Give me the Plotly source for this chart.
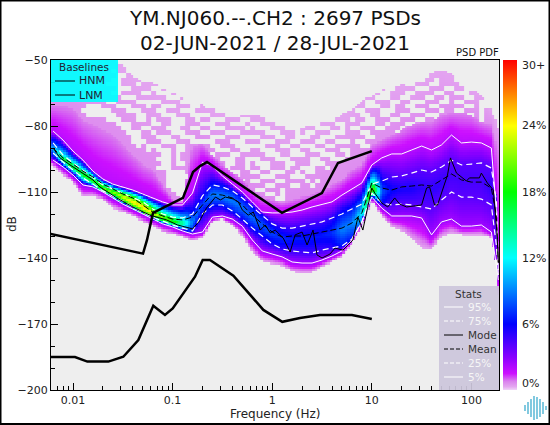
import numpy as np
import plotly.graph_objects as go

TITLE_1 = "YM.NJ060.--.CH2 : 2697 PSDs"
TITLE_2 = "02-JUN-2021 / 28-JUL-2021"

# Frequency grid for the statistics, log10(Hz)
GRID_LOGF = [-2.2, -2.1, -2.0, -1.9, -1.8, -1.7, -1.6, -1.5, -1.4, -1.3, -1.2, -1.1, -1.0, -0.9, -0.8, -0.7,
             -0.6, -0.5, -0.4, -0.3, -0.2, -0.1, 0.0, 0.1, 0.2, 0.3, 0.4, 0.5, 0.6, 0.7, 0.8, 0.9, 1.0, 1.1,
             1.2, 1.3, 1.4, 1.5, 1.6, 1.7, 1.8, 1.9, 2.0, 2.1, 2.2, 2.25, 2.27]

P95 = [-82.3, -86.4, -91.4, -95.5, -100.5, -104.1, -106.4, -107.7, -109.1, -110.9, -112.7, -114.5, -115.9, -115.9,
       -110.5, -96.4, -98.2, -102.7, -106.4, -110, -114.5, -119.1, -119.5, -119.5, -119.1, -118.2, -116.8, -115.5,
       -114.5, -111.4, -108.6, -105.9, -97.7, -94.5, -92.7, -92.7, -90.9, -89.1, -90.9, -88.6, -84.1, -87.7, -87.3,
       -87.7, -90, -118.2, -145.5]
P75 = [-87.7, -93.2, -96.8, -100, -103.2, -106.8, -108.6, -110.5, -112.3, -114.5, -117.7, -120, -121.4, -121.8,
       -120, -111.8, -106.8, -107.7, -109.5, -112.7, -116.8, -120.5, -124.5, -126.4, -126.4, -125.5, -124.5, -123.6,
       -121.8, -120, -117.7, -115.5, -106.4, -105, -103.2, -102.7, -101.4, -100, -100.9, -98.6, -95.5, -97.7, -97.3,
       -96.8, -99.1, -113.6, -140.9]
MEAN = [-90, -94.5, -97.3, -100.5, -103.2, -106.4, -108.6, -110.9, -112.7, -115.9, -119.1, -120.9, -122.3, -122.7,
        -121.4, -115.9, -110.9, -111.4, -112.7, -115.9, -120.5, -124.5, -128.2, -130.5, -130, -130, -129.1, -128.2,
        -127.3, -126.4, -124.1, -119.5, -105.9, -108.2, -109.1, -107.7, -107.3, -106.8, -107.3, -104.5, -101.8,
        -104.5, -105.5, -105.5, -108.2, -120.5, -141.8]
P25 = [-92.3, -96.4, -100, -103.6, -106.4, -109.5, -111.8, -114.1, -116.8, -119.1, -121.4, -123.2, -125, -126.4,
       -127.7, -120, -115.9, -115.9, -118.6, -122.3, -126.4, -130, -133.6, -135.9, -136.8, -137.3, -137.7, -136.4,
       -135.5, -134.5, -131.4, -123.6, -110.5, -115, -115.9, -115.5, -115.9, -116.8, -117.7, -113.6, -110, -112.3,
       -112.3, -113.2, -115.9, -134.1, -147.7]
P5 = [-95.5, -98.6, -102.3, -106.8, -107.7, -110, -112.7, -115.5, -117.7, -120, -122.3, -124.5, -125.9, -127.7,
      -129.1, -128.2, -121.4, -120.9, -122.3, -125.5, -131.8, -136.8, -138.2, -139.5, -141.8, -142.3, -142.3, -140.9,
      -139.1, -136.8, -131.8, -123.6, -112.3, -117.3, -120.9, -120.9, -120.9, -121.8, -129.5, -123.6, -122.3, -125.5,
      -125.5, -125, -128.2, -143.2, -150]

# Where the PDF cloud ends, and how high it peaks (percent)
CLOUD_TOP = [-50, -50, -50, -50, -50, -50, -50, -52.3, -57.3, -59.1, -60.5, -62.7, -65, -67.3, -69.5, -70.5, -71.4,
             -72.7, -74.1, -75, -75, -75, -77.3, -80, -81.8, -80.9, -79.1, -77.3, -75.5, -74.5, -72.7, -68.2, -66.4,
             -63.6, -61.4, -60.9, -60.5, -58.2, -55.9, -54.5, -56.4, -60, -62.3, -65.9, -72.7, -78.2, -81.8]
SOLID_TOP = [-70.5, -70.9, -71.8, -77.3, -79.5, -81.8, -84.1, -88.6, -93.2, -97.7, -100, -106.8, -113.6, -115, -89,
             -88, -93.2, -97.7, -100.9, -104.5, -109.1, -112.3, -113.6, -115, -113.6, -112.3, -111.4, -109.1, -106.8,
             -104.5, -100, -97.7, -88.6, -86.4, -84.1, -81.8, -79.5, -78.2, -78.2, -75, -74.1, -74.1, -75, -78.2,
             -79.5, -88.6, -90.9]
CLOUD_BOTTOM = [-97.7, -102.3, -105.5, -112.3, -111.8, -113.6, -117.3, -119.1, -120.9, -123.6, -125.5, -128.2, -129.1,
                -130.5, -132.3, -130.9, -123.6, -122.3, -125.5, -130, -137.3, -141.8, -142.7, -143.6, -146.4, -146.8,
                -146.8, -144.1, -141.8, -139.5, -133.6, -125.5, -114.1, -120.9, -125.9, -127.7, -131.8, -135.5, -136.4,
                -130.5, -128.6, -129.5, -129.5, -129.5, -130.9, -143.2, -159.1]
PEAK_PCT = [10, 17, 18, 18, 19, 20, 21, 23, 25, 25, 24, 21, 19, 15, 9, 7.5, 9, 9, 9, 8.5, 8.5, 8, 7.5, 7, 6.5, 6.5, 6.5,
            6.5, 7, 9, 9, 12, 22, 8, 6, 5.5, 5.5, 5, 5, 5, 4.5, 4.5, 4.5, 4.5, 5, 4, 3]

MODE_LOGF = [-2.2, -2.13, -2.03, -1.9, -1.8, -1.73, -1.56, -1.4, -1.23, -1.06, -0.95, -0.83, -0.8, -0.73, -0.66, -0.57,
             -0.52, -0.47, -0.39, -0.34, -0.3, -0.24, -0.19, -0.12, -0.07, -0.02, 0.03, 0.11, 0.18, 0.23, 0.3, 0.35,
             0.41, 0.45, 0.5, 0.58, 0.63, 0.71, 0.81, 0.86, 0.91, 1.0, 1.03, 1.1, 1.16, 1.23, 1.28, 1.35, 1.5, 1.55,
             1.58, 1.63, 1.66, 1.76, 1.79, 1.85, 1.95, 1.98, 2.08, 2.1, 2.16, 2.22, 2.26, 2.27]
MODE_DB = [-90, -94.5, -97.7, -101.4, -104.5, -107.7, -112.7, -116.8, -120.5, -122.7, -125, -126.4, -126.8, -123.2,
           -117.3, -112.3, -113.6, -112.3, -113.2, -114.5, -118.2, -120.5, -119.1, -127.3, -125, -128.6, -127.3, -130.9,
           -137.3, -129.5, -128.2, -134.1, -127.3, -138.6, -140, -138.2, -135.5, -136.4, -131.8, -121.4, -127.3, -108.2,
           -110.5, -115, -116.8, -112.7, -115.5, -116.8, -115.9, -108.2, -107.7, -115.9, -115.9, -102.3, -94.5, -101.4,
           -105, -103.6, -103.6, -101.4, -105.9, -109.1, -130.5, -142.3]

HNM_LOGF = [-2.224, -1.297, -1.257, -1.197, -0.896, -0.795, -0.725, -0.655, 0.098, 0.499, 0.66, 1.0]
HNM_DB = [-129.1, -138, -131.8, -119.5, -112.7, -100.9, -98.2, -96.4, -119.5, -110.5, -96.8, -91.4]
LNM_LOGF = [-2.224, -1.98, -1.856, -1.645, -1.495, -1.344, -1.194, -1.077, -0.999, -0.775, -0.698, -0.625, -0.39,
            -0.089, 0.101, 0.279, 0.48, 0.8, 1.0]
LNM_DB = [-185, -185, -187.1, -187.1, -184.9, -177.3, -161.7, -165.9, -162.9, -148.5, -140.9, -140.9, -148, -163.6,
          -169, -167.3, -165.9, -165.9, -167.7]

# Speckle of the sparse upper cloud: one row per 2 dB from -50 dB, one char per 0.05 decade ('.' = no PSD)
F = "##########"
SPECKLE = [
    [F] * 9,
    [F] * 9,
    [F, "##.##.####", F, F, F, F, F, F, F],
    [F, "###..####.", F, F, F, F, F, "####..####", "##..######"],
    [F, "##..####..", "###..#####", F, F, F, F, "##...##.##", "#..#######"],
    [F, "#...###.##", "##..###.##", F, F, F, "########..", "#..###..##", "##..#..###"],
    [F, "###...####", "..###...##", F, F, F, "#######..#", "###...###.", ".##..##.##"],
    [F, "##..####..", "#...####..", F, F, F, "######..##", "#..####..#", "#...###..#"],
    [F, "####...###", "###...##..", "#######..#", F, F, "#####...##", "..###..##.", "###..###.#"],
    [F, "#..####...", "..####...#", "####...##.", F, F, "###..###..", "##...###..", "#..###..##"],
    ["#######...", "###...###.", "##...###..", "#..####..#", "#####..###", "#########.", ".##...##.#", "#..###..##", "###..#..##"],
    ["######....", "..###...##", "#..###...#", "###...####", "#...###...", "#######..#", "#..###...#", "##...###.#", "#..###.###"],
    ["#######...", "...####..#", "##...###..", "..###...##", "##...###.#", "######..##", "##..##..##", "..###...##", ".##..#.###"],
    [F, "#...###..#", ".###...##.", "##...###..", "###..##...", "####...###", ".##..###..", "###..##..#", "#..###.###"],
    [F, "###...####", "..##...###", "...###...#", "..###...##", "##..###..#", "##...##.##", "#..####.##", "##...#.###"],
    [F, "####..##..", "###...##..", "##...####.", "#...###...", "###...##.#", "..###..###", ".###..####", "#.########"],
    [F, "#####...##", ".###...###", "..###...##", "###...###.", "#..###...#", "##..#####.", "##.####.##", "#####.####"],
    [F, "######..##", "#...##...#", "##...###..", "..###..##.", "..##...###", "###..#####", "#####.####", F],
    [F, "######...#", "##...###..", "...###...#", "##...###..", "###..##...", "#..####.##", F, F],
    [F, "#######.#.", "..###..###", "##..###...", "...###..##", "...##..###", "##..######", F, F],
    [F, "#########.", "#...#..###", "###...##..", "##...###..", "##...###..", "####.#####", F, F],
    [F, F, "##..#.####", "...###..##", "###...##..", ".###...##.", F, F, F],
    [F, F, "#...#.####", "####...##.", "..###...##", "##..##...#", F, F, F],
    [F, F, "##..#..###", "#####..##.", "#...###..#", "##...#####", F, F, F],
    [F, F, "#...######", "#####.###.", "##..###.##", "...##.####", F, F, F],
    [F, F, "###....###", "######..##", "..##...##.", "#..#######", F, F, F],
    [F, F, "###.....##", "#######.##", "##...###..", ".#########", F, F, F],
    [F, F, "###.....##", "########.#", "..###..###", "#.#.######", F, F, F],
    [F, F, "###.....##", F, "###..###..", "##.#######", F, F, F],
    [F, F, "####....##", F, "#..###.###", F, F, F, F],
    [F, F, "#####...##", F, "###..#.###", F, F, F, F],
    [F, F, "######..##", F, "#####..###", F, F, F, F],
]

CB_VALUES = [0, 30]
CB_LABEL_Y = [383, 324, 258, 192, 126, 65]
CB_TICKTEXT = ["0%", "6%", "12%", "18%", "24%", "30+"]
XTICKS = [0.01, 0.1, 1, 10, 100]
XTICKTEXT = ["0.01", "0.1", "1", "10", "100"]
YTICKS = [-50, -80, -110, -140, -170, -200]

COLORS = [[0, "#f0d4f8"], [0.3 / 30, "#e4a6f0"], [0.8 / 30, "#da80ee"], [1.5 / 30, "#cc10ff"], [3 / 30, "#8800ff"],
          [6 / 30, "#0000ff"], [9 / 30, "#0080ff"], [12 / 30, "#00ffff"], [15 / 30, "#00ff80"], [18 / 30, "#00ff00"],
          [21 / 30, "#80ff00"], [24 / 30, "#ffff00"], [27 / 30, "#ff8000"], [1, "#ff0000"]]

# ---- PDF grid, looked up per column from the arrays above
NCOL = 180
col_logf = -2.22 + 0.025 * (np.arange(NCOL) + 0.5)
row_db = -50.5 - np.arange(150)
columns = []
for c, lf in enumerate(col_logf):
    v = {n: float(np.interp(lf, GRID_LOGF, a)) for n, a in
         dict(top=CLOUD_TOP, solid=SOLID_TOP, bot=CLOUD_BOTTOM, p95=P95, p75=P75, p25=P25, p5=P5, peak=PEAK_PCT).items()}
    band = max(v["peak"] * 0.72, min(v["peak"], 4))
    anchors = np.maximum.accumulate([v["bot"], v["p5"], v["p25"], (v["p25"] + v["p75"]) / 2, v["p75"], v["p95"], v["solid"]])
    anchors = anchors + np.arange(7) * 1e-3
    levels = [0.3, 2.5, band, v["peak"], band, 1.9, 0.8]
    col = []
    for i, d in enumerate(row_db):
        if d > v["top"] or d < v["bot"]:
            col.append(None)
        elif d > v["solid"]:
            r = int((-50 - d) / 2)
            keep = True
            if r < len(SPECKLE):
                keep = "".join(SPECKLE[r])[c // 2] == "#"
            shade = 0.32 + 0.3 * (v["top"] - d) / max(v["top"] - v["solid"], 1)
            col.append(shade if keep else None)
        else:
            col.append(float(np.interp(d, anchors, levels)))
    columns.append(col)
z = [[columns[c][r] for c in range(NCOL)] for r in range(150)]


def hz(a):
    return [10 ** float(v) for v in a]


fig = go.Figure()
fig.add_trace(go.Heatmap(x=hz(col_logf), y=row_db, z=z, zmin=CB_VALUES[0], zmax=CB_VALUES[1], colorscale=COLORS,
                         hoverongaps=False, connectgaps=False,
                         colorbar=dict(x=(503 - 51) / 448, xanchor="left", xpad=0, ypad=0, thickness=14, len=1, y=0.5,
                                       outlinewidth=0, ticks="", showticklabels=False)))


def line(xs, ys, color, width, dash="solid"):
    fig.add_trace(go.Scatter(x=hz(xs), y=ys, mode="lines", line=dict(color=color, width=width, dash=dash),
                             showlegend=False, hoverinfo="skip"))


line(GRID_LOGF, P95, "white", 1)
line(GRID_LOGF, P5, "white", 1)
line(GRID_LOGF, P75, "white", 1.2, "6px,4px")
line(GRID_LOGF, P25, "white", 1.2, "6px,4px")
line(GRID_LOGF, MEAN, "black", 1, "6px,3px")
line(MODE_LOGF, MODE_DB, "black", 1)
line(HNM_LOGF, HNM_DB, "black", 2.5)
line(LNM_LOGF, LNM_DB, "black", 2.5)


def X(px):
    return (px - 51) / 448


def Y(py):
    return (390 - py) / 330


shapes = []
annots = []


def text(px, py, s, size=11, color="#222", anchor="center", angle=0):
    annots.append(dict(xref="paper", yref="paper", x=X(px), y=Y(py), text=s, showarrow=False, xanchor=anchor,
                       yanchor="middle", textangle=angle, font=dict(family="DejaVu Sans", size=size, color=color)))


def rect(x0, y0, x1, y1, fill):
    shapes.append(dict(type="rect", xref="paper", yref="paper", x0=X(x0), x1=X(x1), y0=Y(y0), y1=Y(y1),
                       fillcolor=fill, line=dict(width=0), layer="above"))


def seg(x0, y0, x1, y1, color, width=1, dash="solid"):
    shapes.append(dict(type="line", xref="paper", yref="paper", x0=X(x0), x1=X(x1), y0=Y(y0), y1=Y(y1),
                       line=dict(color=color, width=width, dash=dash), layer="above"))


text(275, 18, TITLE_1, 20, "#111")
text(275, 43, TITLE_2, 20, "#111")
text(477, 53, "PSD PDF", 10, "#111")
text(12, 224, "dB", 12, "#222", angle=-90)
text(275, 414, "Frequency (Hz)", 12, "#222")

for ly, lt in zip(CB_LABEL_Y, CB_TICKTEXT):
    text(519.5, ly, lt, 11, "#222", "left")

rect(51, 60, 118, 102, "rgba(0,255,255,0.93)")
text(84, 67, "Baselines", 10.5, "#223")
for yy, name in ((81, "HNM"), (95, "LNM")):
    seg(55, yy, 75, yy, "black")
    text(77, yy, name, 11, "#223", "left")

rect(439, 286, 499, 390, "rgba(204,198,220,0.93)")
text(468, 294, "Stats", 10.5, "#333")
for yy, name, col, dash in ((307, "95%", "#f6f6f6", "solid"), (321, "75%", "#f6f6f6", "4px,2px"),
                            (335, "Mode", "#333", "solid"), (349, "Mean", "#333", "4px,2px"),
                            (363, "25%", "#f6f6f6", "4px,2px"), (377, "5%", "#f6f6f6", "solid")):
    seg(444, yy, 463, yy, "white" if col != "#333" else "black", 1, dash)
    text(466, yy, name, 10.5, col, "left")

# logo
LOGO_X = [525, 528, 531, 534, 537, 540, 543, 546]
LOGO_H = [3, 6, 9, 12, 11, 9, 6, 2]
for lx, lh in zip(LOGO_X, LOGO_H):
    seg(lx, 408 - lh, lx, 408 + lh, "#62bcd8", 1.6)

# outer frame
seg(0.75, 0, 0.75, 425, "black", 1.5)
seg(549.25, 0, 549.25, 425, "black", 1.5)
seg(0, 0.75, 550, 0.75, "black", 1.5)
seg(0, 424, 550, 424, "black", 2)

minor_x = [m * 10.0 ** e for e in (-3, -2, -1, 0, 1, 2) for m in range(2, 10)]
minor_x = [v for v in minor_x if 0.006 < v < 190]

fig.update_layout(width=550, height=425, margin=dict(l=51, r=51, t=60, b=35, pad=0), plot_bgcolor="#eeeeee",
                  paper_bgcolor="white", showlegend=False, shapes=shapes, annotations=annots,
                  font=dict(family="DejaVu Sans", size=11, color="#222"))
fig.update_xaxes(type="log", range=[-2.221, 2.277], tickmode="array", tickvals=XTICKS, ticktext=XTICKTEXT,
                 ticks="inside", ticklen=7, tickcolor="black", showgrid=False, zeroline=False, showline=True,
                 linecolor="black", linewidth=1.2, mirror=True,
                 minor=dict(tickmode="array", tickvals=minor_x, ticks="inside", ticklen=4, tickcolor="black", showgrid=False))
fig.update_yaxes(range=[-200, -50], tickmode="array", tickvals=YTICKS, ticks="inside", ticklen=7, tickcolor="black",
                 showgrid=False, zeroline=False, showline=True, linecolor="black", linewidth=1.2, mirror=True,
                 minor=dict(dtick=10, ticks="inside", ticklen=4, tickcolor="black", showgrid=False))

fig.write_html("out.html", config=dict(displayModeBar=False),
               post_script="document.body.style.margin='0';document.documentElement.style.overflow='hidden';")
